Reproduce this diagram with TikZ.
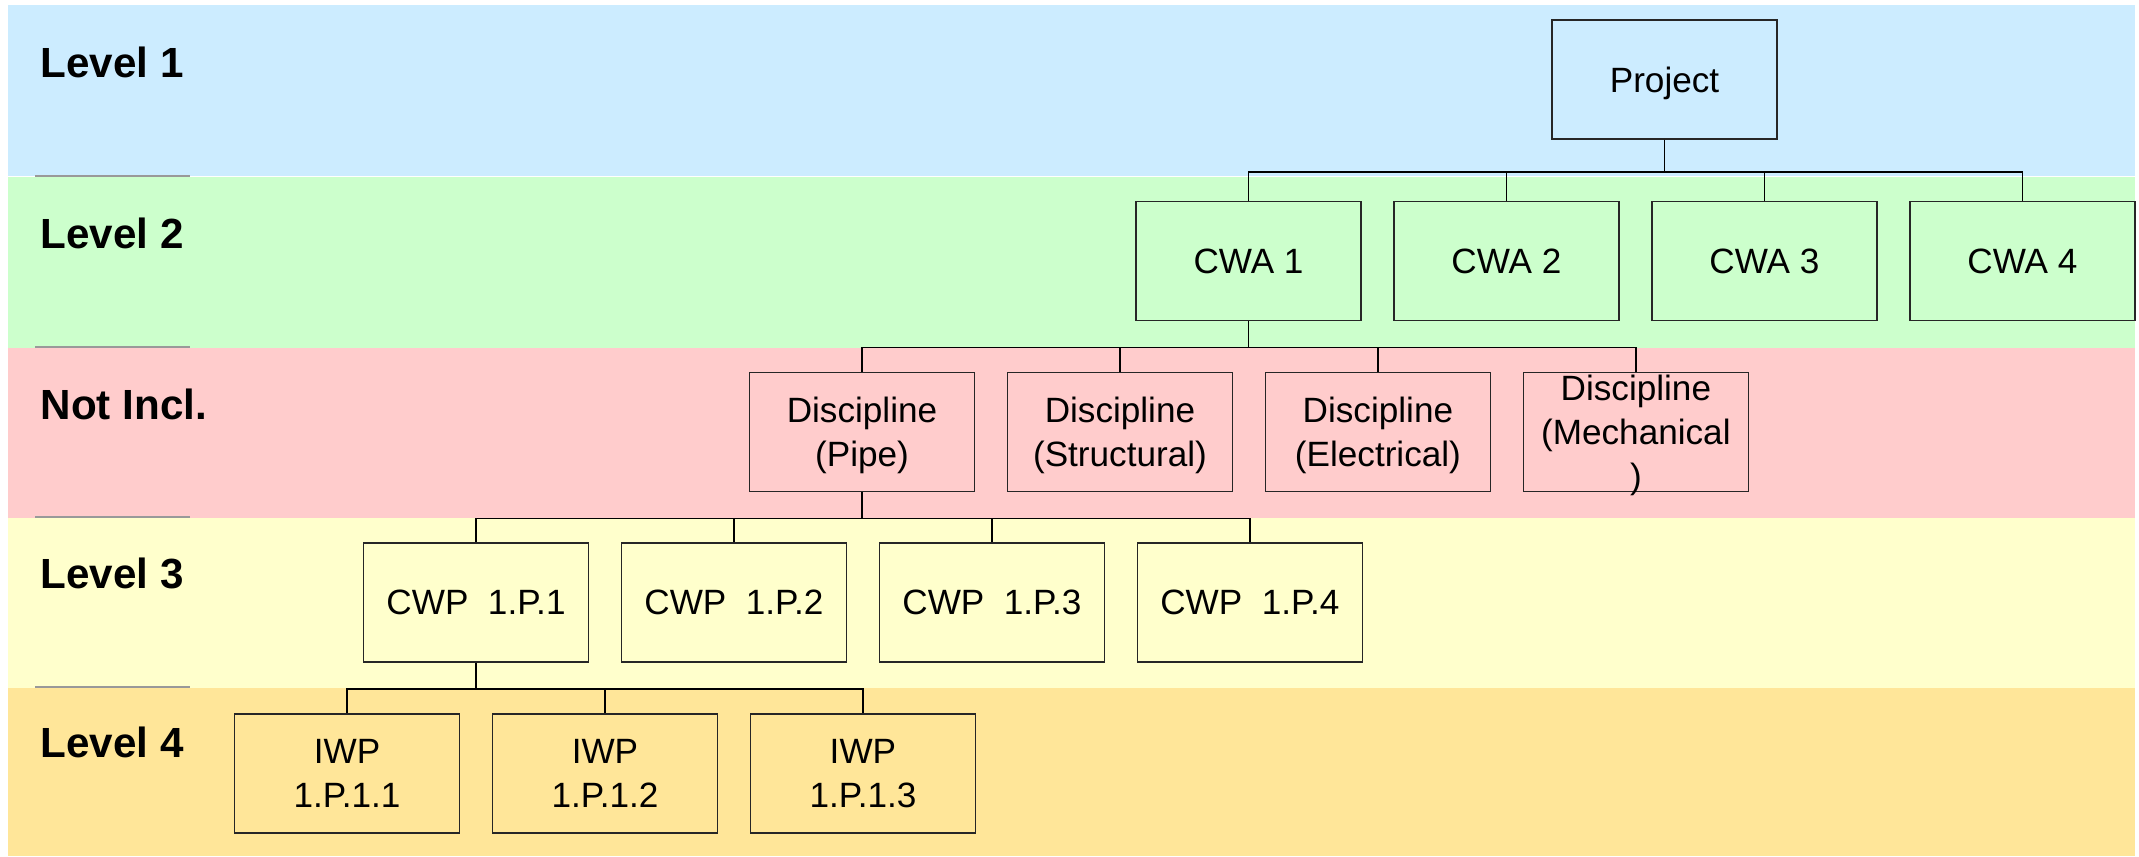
\documentclass[tikz,border=0pt]{standalone}
\usepackage{fontspec}
\setmainfont{Liberation Sans}
\usepackage{tikz}
\usetikzlibrary{positioning}
\definecolor{bandblue}{HTML}{CCECFF}
\definecolor{bandgreen}{HTML}{CCFFCC}
\definecolor{bandred}{HTML}{FFCCCC}
\definecolor{bandyellow}{HTML}{FFFFCC}
\definecolor{bandorange}{HTML}{FFE699}
\tikzset{
  wbs/.style={draw=black!85, line width=0.5pt, minimum width=2.25cm, minimum height=1.19cm, inner sep=0pt, text depth=0pt, align=center, font=\fontsize{10}{12.5}\selectfont},
  lvl/.style={anchor=base west, inner sep=0pt, font=\bfseries\fontsize{12}{14}\selectfont},
  sep/.style={draw=black!40, line width=0.6pt},
  link/.style={draw=black, line width=0.5pt},
}
\begin{document}
\begin{tikzpicture}[node distance=0.312cm]
  \useasboundingbox (0,0) rectangle (21.39,-8.56);
  % level bands
  \fill[bandblue] (0.08,-0.05) rectangle (21.35,-1.755);
  \fill[bandgreen] (0.08,-1.765) rectangle (21.35,-3.48);
  \fill[bandred] (0.08,-3.48) rectangle (21.35,-5.18);
  \fill[bandyellow] (0.08,-5.18) rectangle (21.35,-6.88);
  \fill[bandorange] (0.08,-6.88) rectangle (21.35,-8.56);
  \draw[sep] (0.35,-1.76) -- (1.90,-1.76);
  \draw[sep] (0.35,-3.47) -- (1.90,-3.47);
  \draw[sep] (0.35,-5.17) -- (1.90,-5.17);
  \draw[sep] (0.35,-6.87) -- (1.90,-6.87);
  \node[lvl] (l1) at (0.40,-0.77) {Level 1};
  \node[lvl] (l2) at (0.40,-2.48) {Level 2};
  \node[lvl] (l0) at (0.40,-4.19) {Not Incl.};
  \node[lvl] (l3) at (0.40,-5.88) {Level 3};
  \node[lvl] (l4) at (0.40,-7.57) {Level 4};
  % boxes
  \node[wbs] (proj) at (16.645,-0.795) {Project};
  \node[wbs] (cwa1) at (12.485,-2.61) {CWA 1};
  \node[wbs, right=of cwa1] (cwa2) {CWA 2};
  \node[wbs, right=of cwa2] (cwa3) {CWA 3};
  \node[wbs, right=of cwa3] (cwa4) {CWA 4};
  \node[wbs] (disc1) at (8.62,-4.32) {Discipline\\(Pipe)};
  \node[wbs, right=of disc1] (disc2) {Discipline\\(Structural)};
  \node[wbs, right=of disc2] (disc3) {Discipline\\(Electrical)};
  \node[wbs, right=of disc3] (disc4) {};
  \node[align=center, inner sep=0pt, text depth=0pt, font=\fontsize{10}{12.5}\selectfont] (disc4t) at (disc4) {Discipline\\(Mechanical\\)};
  \node[wbs] (cwp1) at (4.76,-6.025) {CWP\ \ 1.P.1};
  \node[wbs, right=of cwp1] (cwp2) {CWP\ \ 1.P.2};
  \node[wbs, right=of cwp2] (cwp3) {CWP\ \ 1.P.3};
  \node[wbs, right=of cwp3] (cwp4) {CWP\ \ 1.P.4};
  \node[wbs] (iwp1) at (3.47,-7.735) {IWP\\1.P.1.1};
  \node[wbs, right=of iwp1] (iwp2) {IWP\\1.P.1.2};
  \node[wbs, right=of iwp2] (iwp3) {IWP\\1.P.1.3};
  % links
  \draw[link] (proj.south) -- ++(0,-0.32) -| (cwa1.north);
  \draw[link] (proj.south) -- ++(0,-0.32) -| (cwa2.north);
  \draw[link] (proj.south) -- ++(0,-0.32) -| (cwa3.north);
  \draw[link] (proj.south) -- ++(0,-0.32) -| (cwa4.north);
  \draw[link] (cwa1.south) -- ++(0,-0.26) -| (disc1.north);
  \draw[link] (cwa1.south) -- ++(0,-0.26) -| (disc2.north);
  \draw[link] (cwa1.south) -- ++(0,-0.26) -| (disc3.north);
  \draw[link] (cwa1.south) -- ++(0,-0.26) -| (disc4.north);
  \draw[link] (disc1.south) -- ++(0,-0.26) -| (cwp1.north);
  \draw[link] (disc1.south) -- ++(0,-0.26) -| (cwp2.north);
  \draw[link] (disc1.south) -- ++(0,-0.26) -| (cwp3.north);
  \draw[link] (disc1.south) -- ++(0,-0.26) -| (cwp4.north);
  \draw[link] (cwp1.south) -- ++(0,-0.26) -| (iwp1.north);
  \draw[link] (cwp1.south) -- ++(0,-0.26) -| (iwp2.north);
  \draw[link] (cwp1.south) -- ++(0,-0.26) -| (iwp3.north);
\end{tikzpicture}
\end{document}
